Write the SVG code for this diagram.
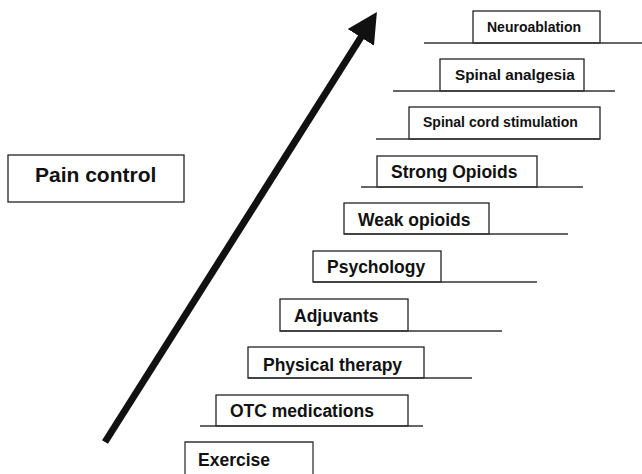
<svg xmlns="http://www.w3.org/2000/svg" width="642" height="474" viewBox="0 0 642 474">
<style>
.box{fill:#fff;stroke:#222;stroke-width:1.3}
.base{stroke:#333;stroke-width:1.3;fill:none}
.t{font-family:"Liberation Sans",Arial,sans-serif;font-weight:bold;fill:#111;font-size:17.5px}
.s{font-size:14px}
</style>
<defs>
<marker id="ah" markerUnits="userSpaceOnUse" markerWidth="34" markerHeight="34" viewBox="0 0 34 34" refX="4" refY="17" orient="auto">
<path d="M0,1.5 L30,17 L0,32.5 Z" fill="#111"/>
</marker>
</defs>
<rect width="642" height="474" fill="#fff"/>
<g id="connectors">
<line x1="105" y1="442" x2="363" y2="34" stroke="#111" stroke-width="7" marker-end="url(#ah)"/>
</g>
<g id="pain-control">
<rect class="box" x="8" y="155" width="176" height="47"/>
<text class="t" x="35" y="182" style="font-size:21px">Pain control</text>
</g>
<g id="exercise">
<path class="base" d="M185,474 V442 H313 V474"/>
<text class="t" x="198" y="466">Exercise</text>
</g>
<g id="otc">
<rect class="box" x="216" y="395" width="192" height="31"/>
<line class="base" x1="200" y1="426" x2="423" y2="426"/>
<text class="t" x="230" y="417">OTC medications</text>
</g>
<g id="physical-therapy">
<rect class="box" x="248" y="347" width="176" height="31"/>
<line class="base" x1="248" y1="378" x2="472" y2="378"/>
<text class="t" x="263" y="371">Physical therapy</text>
</g>
<g id="adjuvants">
<rect class="box" x="280" y="299" width="128" height="32"/>
<line class="base" x1="280" y1="331" x2="502" y2="331"/>
<text class="t" x="294" y="322">Adjuvants</text>
</g>
<g id="psychology">
<rect class="box" x="313" y="251" width="128" height="31"/>
<line class="base" x1="313" y1="282" x2="537" y2="282"/>
<text class="t" x="327" y="273">Psychology</text>
</g>
<g id="weak-opioids">
<rect class="box" x="344" y="203" width="145" height="31"/>
<line class="base" x1="344" y1="234" x2="568" y2="234"/>
<text class="t" x="358" y="226">Weak opioids</text>
</g>
<g id="strong-opioids">
<rect class="box" x="377" y="156" width="160" height="31"/>
<line class="base" x1="361" y1="187" x2="583" y2="187"/>
<text class="t" x="391" y="178">Strong Opioids</text>
</g>
<g id="spinal-cord-stimulation">
<rect class="box" x="409" y="107" width="191" height="32"/>
<line class="base" x1="376" y1="139" x2="600" y2="139"/>
<text class="t s" x="423" y="127">Spinal cord stimulation</text>
</g>
<g id="spinal-analgesia">
<rect class="box" x="440" y="59" width="144" height="32"/>
<line class="base" x1="393" y1="91" x2="615" y2="91"/>
<text class="t" x="455" y="80" style="font-size:15.3px">Spinal analgesia</text>
</g>
<g id="neuroablation">
<rect class="box" x="473" y="11" width="127" height="32"/>
<line class="base" x1="424" y1="43" x2="642" y2="43"/>
<text class="t s" x="487" y="32">Neuroablation</text>
</g>
</svg>
